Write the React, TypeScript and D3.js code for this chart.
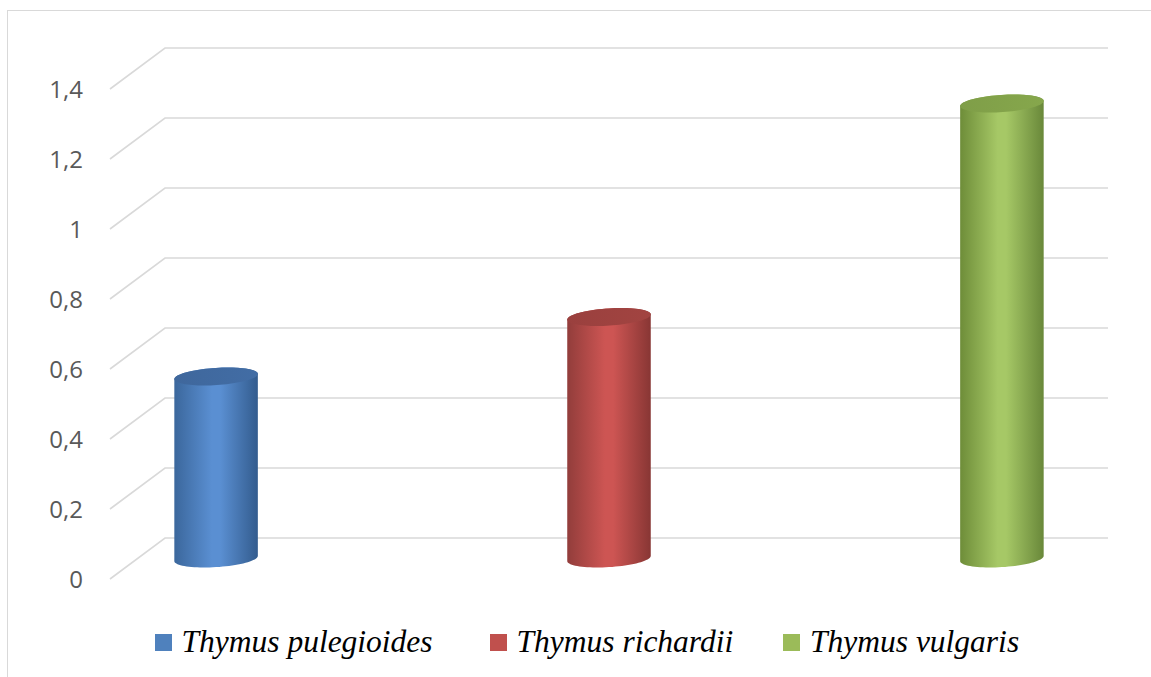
import * as d3 from "d3";
import React from "react";

// chart data
const seriesNames = ["Thymus pulegioides", "Thymus richardii", "Thymus vulgaris"];
const seriesValues = [0.52, 0.69, 1.3];
const yTicks = [0, 0.2, 0.4, 0.6, 0.8, 1, 1.2, 1.4];
const yTickLabels = ["0", "0,2", "0,4", "0,6", "0,8", "1", "1,2", "1,4"];
const baseColors = ["#4F81BD", "#C0504D", "#9BBB59"];
// [edge left, light, edge right, cap]
const shades = [
	["#3b679c", "#5a8fd2", "#335c8e", "#3f679c"],
	["#923d3b", "#cd5553", "#883634", "#9a403e"],
	["#6e8d39", "#a6c866", "#69883a", "#7f9e48"],
];

const W = 1151,
	H = 677;
// front plane of the plot and 3D depth offset
const front = { left: 110, width: 943 };
const depth = { dx: 55, dy: -41 };

const App = (): JSX.Element => {
	const y = d3.scaleLinear().domain([0, 1.4]).range([579, 89]);
	const x = d3.scalePoint<string>().domain(seriesNames).range([0, front.width]).padding(0.2);

	const line = d3.line<[number, number]>();

	// ellipse point for a cylinder cap
	const a = 40,
		sx = 12,
		sy = 9;
	const pt = (cx: number, cy: number, t: number): [number, number] => [
		cx + a * Math.cos(t) + sx * Math.sin(t),
		cy - sy * Math.sin(t),
	];
	const t0 = Math.atan(sx / a);
	const arc = (cx: number, cy: number, from: number, to: number, n = 40) =>
		d3.range(n + 1).map((i) => pt(cx, cy, from + ((to - from) * i) / n));

	return (
		<div style={{ position: "absolute", left: 0, top: 0 }}>
			<svg width={W} height={H} style={{ display: "block", background: "#fff" }}>
				<defs>
					{shades.map((s, i) => (
						<linearGradient key={i} id={`cyl${i}`} x1="0" x2="1" y1="0" y2="0">
							<stop offset="0" stopColor={s[0]} />
							<stop offset="0.45" stopColor={s[1]} />
							<stop offset="0.55" stopColor={s[1]} />
							<stop offset="1" stopColor={s[2]} />
						</linearGradient>
					))}
					{shades.map((s, i) => (
						<linearGradient key={i} id={`cap${i}`} x1="0" x2="1" y1="0" y2="0">
							<stop offset="0" stopColor={s[3]} />
							<stop offset="1" stopColor={d3.color(s[3])!.brighter(0.15).formatHex()} />
						</linearGradient>
					))}
				</defs>
				{/* frame */}
				<rect x={7.5} y={10.5} width={W + 20} height={H + 20} fill="none" stroke="#d9d9d9" strokeWidth={1} />

				{/* gridlines: side wall diagonal + back wall */}
				<g stroke="#d9d9d9" strokeWidth={1.6} fill="none">
					{yTicks.map((v) => {
						const x0 = front.left,
							y0 = y(v);
						return (
							<path
								key={v}
								d={`M${x0},${y0}L${x0 + depth.dx},${y0 + depth.dy}H${front.left + front.width + depth.dx}`}
							/>
						);
					})}
				</g>

				{/* y labels */}
				<g fontFamily="Open Sans" fontSize={24} fill="#595959" textAnchor="end">
					{yTicks.map((v, i) => (
						<text key={v} x={83} y={y(v) + 9}>
							{yTickLabels[i]}
						</text>
					))}
				</g>

				{/* cylinders */}
				{seriesNames.map((s, i) => {
					const cx = front.left + x(s)! + depth.dx / 2;
					const yb = y(0) + depth.dy / 2;
					const yt = y(seriesValues[i]) + depth.dy / 2;
					const bodyPts: [number, number][] = [
						pt(cx, yt, Math.PI + t0),
						...arc(cx, yb, Math.PI + t0, 2 * Math.PI + t0),
						...arc(cx, yt, t0, Math.PI + t0),
					];
					const capPts = arc(cx, yt, 0, 2 * Math.PI, 80);
					return (
						<g key={s}>
							<path d={line(bodyPts)! + "Z"} fill={`url(#cyl${i})`} />
							<path d={line(capPts)! + "Z"} fill={`url(#cap${i})`} />
						</g>
					);
				})}

				{/* legend */}
				{seriesNames.map((s, i) => {
					const lx = [155, 490, 783][i];
					const tx = [181.5, 516.5, 810][i];
					return (
						<g key={s}>
							<rect x={lx} y={634} width={17} height={17} fill={baseColors[i]} />
							<text x={tx} y={651.5} fontFamily="Liberation Serif" fontStyle="italic" fontSize={31.5} fill="#000">
								{s}
							</text>
						</g>
					);
				})}
			</svg>
		</div>
	);
};

export default App;
